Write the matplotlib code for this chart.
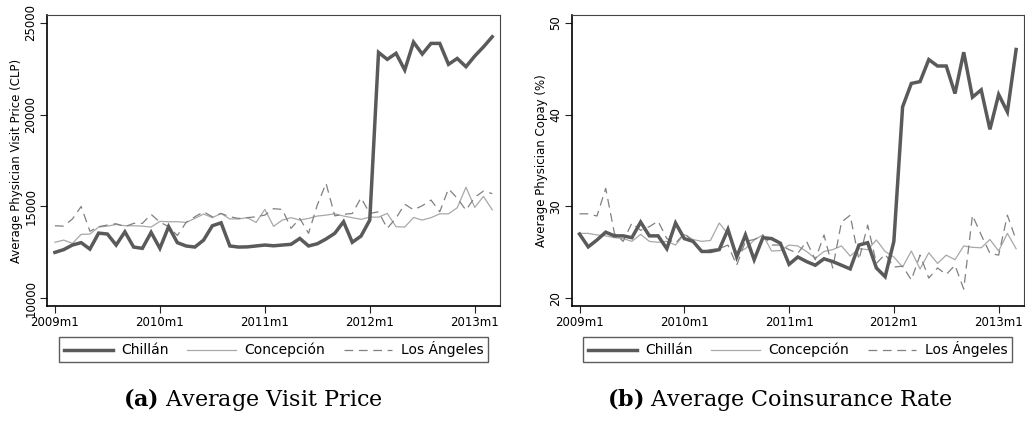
import matplotlib
matplotlib.use("Agg")
import matplotlib.pyplot as plt
import numpy as np

plt.rcParams["font.family"] = ["DejaVu Sans"]
plt.rcParams["mathtext.fontset"] = "dejavuserif"

# monthly series, 2009m1 .. 2013m3
meses = np.arange(51)
ticks_mes = [0, 12, 24, 36, 48]
etiquetas_mes = ["2009m1", "2010m1", "2011m1", "2012m1", "2013m1"]

precio_chillan = [12500, 12650, 12900, 13030, 12680, 13550, 13500, 12900, 13620, 12790,
                  12720, 13590, 12720, 13900, 13030, 12850, 12790, 13170, 13950, 14110,
                  12850, 12790, 12800, 12850, 12900, 12860, 12900, 12940, 13260, 12850,
                  12970, 13230, 13540, 14170, 13050, 13390, 14260, 23390, 23010, 23340,
                  22430, 23950, 23300, 23880, 23880, 22740, 23060, 22610, 23190, 23690, 24240]
precio_concepcion = [13050, 13170, 12990, 13480, 13500, 13880, 13930, 14020, 13950, 13950,
                     13930, 13880, 14190, 14170, 14170, 14130, 14350, 14590, 14390, 14620,
                     14320, 14320, 14390, 14130, 14840, 13920, 14260, 14390, 14260, 14350,
                     14480, 14530, 14600, 14480, 14390, 14300, 14420, 14420, 14620, 13900,
                     13880, 14400, 14260, 14390, 14600, 14600, 14930, 16050, 14950, 15550, 14820]
precio_losangeles = [13950, 13930, 14320, 15000, 13650, 13900, 13990, 14060, 13900, 14080,
                     14080, 14570, 14150, 13900, 13420, 14130, 14440, 14710, 14440, 14620,
                     14440, 14350, 14390, 14440, 14530, 14880, 14840, 13810, 14350, 13540,
                     15080, 16260, 14490, 14570, 14620, 15470, 14620, 14710, 13810, 14370,
                     15120, 14820, 15040, 15350, 14710, 15960, 15450, 14800, 15500, 15840, 15700]

copago_chillan = [27.0, 25.6, 26.35, 27.2, 26.8, 26.8, 26.6, 28.3, 26.8, 26.8,
                  25.4, 28.2, 26.5, 26.2, 25.1, 25.1, 25.3, 27.5, 24.5, 26.9,
                  24.2, 26.6, 26.5, 26.0, 23.7, 24.5, 24.0, 23.6, 24.3, 24.0,
                  23.6, 23.2, 25.8, 26.05, 23.3, 22.35, 26.2, 40.85, 43.4, 43.6,
                  46.0, 45.3, 45.3, 42.3, 46.8, 41.9, 42.7, 38.4, 42.2, 40.3, 47.1]
copago_concepcion = [27.07, 27.07, 26.9, 26.8, 26.6, 26.5, 26.2, 26.96, 26.2, 26.1,
                     26.2, 25.8, 26.96, 26.4, 26.2, 26.3, 28.2, 27.0, 25.0, 25.4,
                     26.35, 26.9, 25.15, 25.2, 25.8, 25.7, 25.1, 24.35, 25.1, 25.3,
                     25.7, 24.6, 25.4, 25.3, 26.35, 25.1, 24.5, 23.4, 25.15, 23.2,
                     24.96, 23.8, 24.7, 24.2, 25.7, 25.55, 25.5, 26.4, 25.15, 27.07, 25.4]
copago_losangeles = [29.2, 29.2, 28.96, 31.97, 27.07, 26.2, 28.2, 27.4, 27.8, 28.4,
                     26.5, 26.0, 27.07, 26.2, 25.1, 25.3, 25.4, 25.8, 23.6, 26.2,
                     26.4, 26.9, 25.8, 25.8, 25.3, 24.9, 26.2, 24.2, 26.9, 23.3,
                     28.3, 29.05, 24.2, 27.97, 23.8, 24.8, 23.4, 23.5, 22.0, 24.7,
                     22.2, 23.3, 22.6, 23.6, 21.0, 29.05, 26.9, 24.9, 24.7, 29.05, 26.35]

ciudades = ["Chillán", "Concepción", "Los Ángeles"]


def dibujar_panel(ax, series, yticks, ylim, ylabel):
    ax.plot(meses, series[0], color="#5a5a5a", lw=2.5, label=ciudades[0],
            solid_joinstyle="miter", zorder=3)
    ax.plot(meses, series[1], color="#a8a8a8", lw=0.9, label=ciudades[1])
    ax.plot(meses, series[2], color="#808080", lw=0.9, label=ciudades[2],
            dashes=(7, 4.5))
    ax.set_xlim(-0.9, 50.9)
    ax.set_ylim(*ylim)
    ax.set_xticks(ticks_mes)
    ax.set_xticklabels(etiquetas_mes)
    ax.set_yticks(yticks)
    ax.set_yticklabels([str(t) for t in yticks], rotation=90, va="center")
    ax.tick_params(labelsize=8.5, length=5, width=0.8, color="#222222", pad=2)
    ax.set_ylabel(ylabel, fontsize=8.5, labelpad=1)
    for lado in ["left", "bottom"]:
        ax.spines[lado].set_linewidth(1.2)
        ax.spines[lado].set_color("black")
    for lado in ["top", "right"]:
        ax.spines[lado].set_linewidth(0.8)
        ax.spines[lado].set_color("#444444")
    leg = ax.legend(loc="upper center", bbox_to_anchor=(0.5, -0.105), ncol=3,
                    fontsize=10, frameon=True, fancybox=False, handlelength=3.5,
                    handletextpad=0.6, columnspacing=1.35, borderpad=0.35,
                    borderaxespad=0)
    leg.get_frame().set_edgecolor("#333333")
    leg.get_frame().set_linewidth(1.0)


fig = plt.figure(figsize=(10.25, 4.24), dpi=100)
ax1 = fig.add_axes([0.0459, 0.2783, 0.442, 0.686])
ax2 = fig.add_axes([0.5577, 0.2783, 0.4413, 0.686])

dibujar_panel(ax1, [precio_chillan, precio_concepcion, precio_losangeles],
              [10000, 15000, 20000, 25000], (9581, 25419),
              "Average Physician Visit Price (CLP)")
dibujar_panel(ax2, [copago_chillan, copago_concepcion, copago_losangeles],
              [20, 30, 40, 50], (19.16, 50.84),
              "Average Physician Copay (%)")

fig.text(253 / 1025, 0.0425, r"$\mathbf{(a)}$ Average Visit Price",
         family="DejaVu Serif", fontsize=16, ha="center", va="baseline")
fig.text(780 / 1025, 0.0425, r"$\mathbf{(b)}$ Average Coinsurance Rate",
         family="DejaVu Serif", fontsize=16, ha="center", va="baseline")

fig.savefig("out.png", dpi=100)
plt.close(fig)
